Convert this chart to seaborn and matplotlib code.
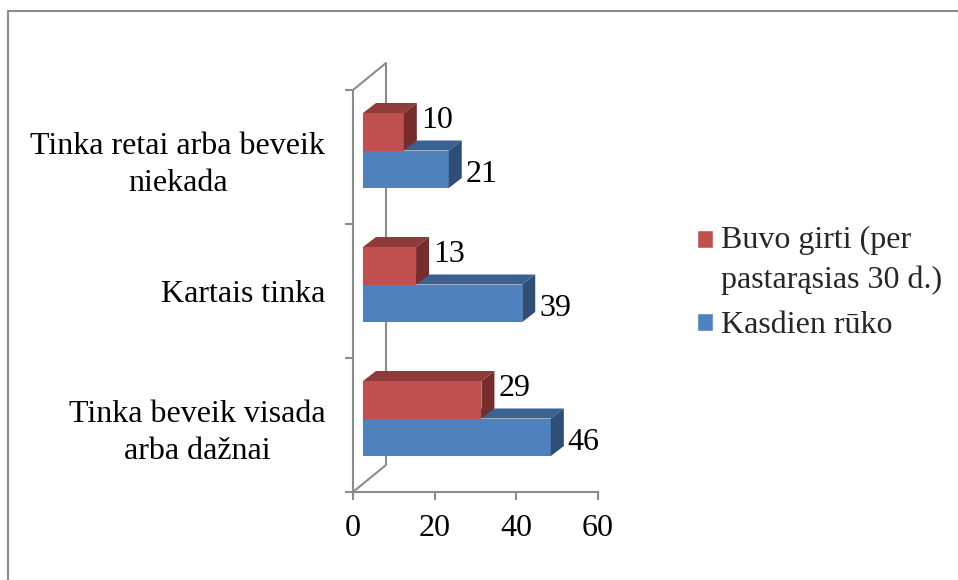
import numpy as np
import pandas as pd
import matplotlib.pyplot as plt
import seaborn as sns
from matplotlib.transforms import ScaledTranslation
from matplotlib.patches import Polygon, Patch
from matplotlib.lines import Line2D

categories = ["Tinka retai arba beveik niekada", "Kartais tinka", "Tinka beveik visada arba dažnai"]
tick_labels = ["Tinka retai arba beveik\nniekada", "Kartais tinka", "Tinka beveik visada\narba dažnai"]
series = ["Buvo girti (per pastarąsias 30 d.)", "Kasdien rūko"]
legend_labels = ["Buvo girti (per\npastarąsias 30 d.)", "Kasdien rūko"]
girti = [10, 13, 29]
ruko = [21, 39, 46]
x_ticks = [0, 20, 40, 60]

front = ["#C0504D", "#4F81BD"]
top = ["#8E3B39", "#3A6190"]
side = ["#772D2B", "#2E4E76"]
grey = "#8c8c8c"

df = pd.DataFrame({
    "category": categories * 2,
    "series": [series[0]] * 3 + [series[1]] * 3,
    "value": girti + ruko,
})

sns.set_theme(style="white")
plt.rcParams["font.family"] = ["Liberation Serif", "DejaVu Serif"]
fs = 23

W, H = 958, 580
fig = plt.figure(figsize=(W / 100, H / 100), dpi=100)
ax = fig.add_axes([353 / W, 88 / H, 245 / W, 402 / H])

sns.barplot(data=df, x="value", y="category", hue="series", order=categories,
            hue_order=series, palette=front, saturation=1, width=0.56,
            orient="h", legend=False, ax=ax)
ax.set_xlim(0, 60)
ax.set_ylim(2.5, -0.5)
ax.set_xlabel("")
ax.set_ylabel("")

# fake 3d: shift bars back a bit and add top / side faces
ppx = 245 / 60
ppy = 402 / 3
ddx = 13 / ppx
ddy = 10 / ppy
shift = ScaledTranslation(0.10, 0.065, fig.dpi_scale_trans)
tr = ax.transData + shift

for i, cont in enumerate(ax.containers):
    z = 3 if i == 0 else 2
    for bar in cont:
        x0, y0 = bar.get_x(), bar.get_y()
        w, h = bar.get_width(), bar.get_height()
        bar.set_transform(tr)
        bar.set_zorder(z)
        bar.set_clip_on(False)
        bar.set_edgecolor("none")
        topf = Polygon([(x0, y0), (x0 + w, y0), (x0 + w + ddx, y0 - ddy), (x0 + ddx, y0 - ddy)],
                       closed=True, facecolor=top[i], edgecolor="none", transform=tr, zorder=z, clip_on=False)
        sidef = Polygon([(x0 + w, y0), (x0 + w, y0 + h), (x0 + w + ddx, y0 + h - ddy), (x0 + w + ddx, y0 - ddy)],
                        closed=True, facecolor=side[i], edgecolor="none", transform=tr, zorder=z, clip_on=False)
        ax.add_patch(topf)
        ax.add_patch(sidef)
        dy = 13 if i == 0 else 1.1
        ax.annotate(f"{w:.0f}", xy=(x0 + w, y0 + h / 2), xytext=(19.4, dy),
                    textcoords="offset points", ha="left", va="center",
                    fontsize=fs, color="black", zorder=5)

# back wall lines
ox, oy = 33 / 245, 27 / 402
ax.plot([0, ox, ox, 0], [1, 1 + oy, oy, 0], transform=ax.transAxes,
        color=grey, lw=1.5, clip_on=False, zorder=1)

for s in ["top", "right"]:
    ax.spines[s].set_visible(False)
for s in ["left", "bottom"]:
    ax.spines[s].set_color(grey)
    ax.spines[s].set_linewidth(1.5)

ax.set_xticks(x_ticks)
ax.set_yticks([0, 1, 2], tick_labels)
ax.set_yticks([-0.5, 0.5, 1.5, 2.5], minor=True)
ax.tick_params(axis="x", bottom=True, length=5.5, width=1.5, color=grey,
               labelsize=fs, pad=10, labelcolor="black")
ax.tick_params(axis="y", which="major", left=True, length=0, pad=20,
               labelsize=fs, labelcolor="black")
ax.tick_params(axis="y", which="minor", left=True, length=5.5, width=1.5, color=grey)
for lbl in ax.get_yticklabels():
    lbl.set_multialignment("center")
    lbl.set_linespacing(1.4)

handles = [Patch(facecolor=front[0]), Patch(facecolor=front[1])]
leg = fig.legend(handles, legend_labels, loc="center left",
                 bbox_to_anchor=(697 / W, 1 - 283 / H), frameon=False,
                 fontsize=fs, handlelength=0.5, handleheight=0.5,
                 handletextpad=0.25, labelspacing=0.5, borderpad=0, borderaxespad=0)
for t in leg.get_texts():
    t.set_linespacing(1.5)
p0 = leg.get_patches()[0]
p0.set_y(p0.get_y() + 15)

# chart frame (only top and left edge show)
fig.add_artist(Line2D([8 / W, 8 / W], [0, 1 - 11 / H], color=grey, lw=1.5))
fig.add_artist(Line2D([8 / W, 1], [1 - 11 / H, 1 - 11 / H], color=grey, lw=1.5))

fig.savefig("out.png", dpi=100)
